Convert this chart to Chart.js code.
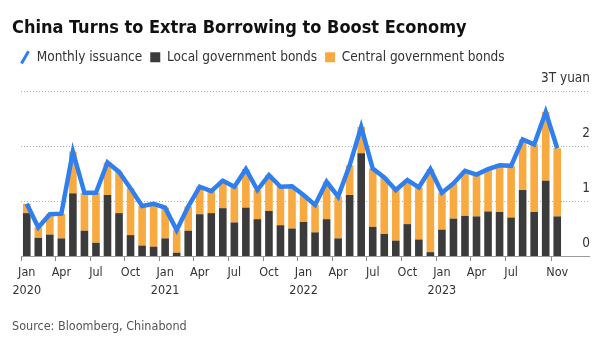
<!DOCTYPE html>
<html>
<head>
<meta charset="utf-8">
<script src="https://cdn.jsdelivr.net/npm/chart.js@4"></script>
<style>
  body { margin: 0; background: #fff; }
</style>
</head>
<body>
<canvas id="myChart" width="600" height="342"></canvas>
<script>
const months = [
    'Jan 2020', 'Feb 2020', 'Mar 2020', 'Apr 2020', 'May 2020', 'Jun 2020',
    'Jul 2020', 'Aug 2020', 'Sep 2020', 'Oct 2020', 'Nov 2020', 'Dec 2020',
    'Jan 2021', 'Feb 2021', 'Mar 2021', 'Apr 2021', 'May 2021', 'Jun 2021',
    'Jul 2021', 'Aug 2021', 'Sep 2021', 'Oct 2021', 'Nov 2021', 'Dec 2021',
    'Jan 2022', 'Feb 2022', 'Mar 2022', 'Apr 2022', 'May 2022', 'Jun 2022',
    'Jul 2022', 'Aug 2022', 'Sep 2022', 'Oct 2022', 'Nov 2022', 'Dec 2022',
    'Jan 2023', 'Feb 2023', 'Mar 2023', 'Apr 2023', 'May 2023', 'Jun 2023',
    'Jul 2023', 'Aug 2023', 'Sep 2023', 'Oct 2023', 'Nov 2023'
];

// months that get a label on the x axis
const tickMonths = [
    'Jan 2020', 'Apr 2020', 'Jul 2020', 'Oct 2020',
    'Jan 2021', 'Apr 2021', 'Jul 2021', 'Oct 2021',
    'Jan 2022', 'Apr 2022', 'Jul 2022', 'Oct 2022',
    'Jan 2023', 'Apr 2023', 'Jul 2023', 'Nov 2023'
];

// trillion yuan
const issuance = [
    0.95, 0.52, 0.76, 0.77, 1.90, 1.15, 1.15, 1.70, 1.53, 1.23, 0.91, 0.95,
    0.88, 0.47, 0.90, 1.26, 1.18, 1.37, 1.26, 1.58, 1.20, 1.47, 1.26, 1.27,
    1.11, 0.93, 1.35, 1.08, 1.65, 2.35, 1.59, 1.43, 1.20, 1.38, 1.25, 1.58,
    1.15, 1.32, 1.55, 1.48, 1.58, 1.65, 1.64, 2.12, 2.03, 2.62, 1.96
];

const localBonds = [
    0.78, 0.33, 0.39, 0.32, 1.14, 0.46, 0.24, 1.11, 0.78, 0.38, 0.19, 0.17,
    0.32, 0.06, 0.46, 0.76, 0.78, 0.87, 0.61, 0.88, 0.67, 0.82, 0.56, 0.50,
    0.62, 0.43, 0.67, 0.32, 1.11, 1.87, 0.53, 0.40, 0.28, 0.58, 0.30, 0.07,
    0.48, 0.68, 0.73, 0.72, 0.81, 0.80, 0.70, 1.20, 0.80, 1.37, 0.72
];

const centralBonds = [
    0.17, 0.19, 0.37, 0.45, 0.76, 0.69, 0.91, 0.59, 0.75, 0.85, 0.72, 0.78,
    0.56, 0.41, 0.44, 0.50, 0.40, 0.50, 0.65, 0.70, 0.53, 0.65, 0.70, 0.77,
    0.49, 0.50, 0.68, 0.76, 0.54, 0.48, 1.06, 1.03, 0.92, 0.80, 0.95, 1.51,
    0.67, 0.64, 0.82, 0.76, 0.77, 0.85, 0.94, 0.92, 1.23, 1.25, 1.24
];

const colors = {
    blue: '#2f7fee',
    dark: '#3b3b3b',
    orange: '#f8aa40',
    text: '#333333',
    grid: '#b0b0b0'
};

const fontFamily = '"DejaVu Sans Condensed", "DejaVu Sans", sans-serif';

// extra room under the legend for the "3T yuan" label
const legendSpacer = {
    id: 'legendSpacer',
    beforeInit(chart) {
        const origFit = chart.legend.fit;
        chart.legend.fit = function () {
            origFit.bind(chart.legend)();
            this.height += 17;
        };
    }
};

const data = {
    labels: months,
    datasets: [
        {
            type: 'line',
            label: 'Monthly issuance',
            data: issuance,
            borderColor: colors.blue,
            backgroundColor: colors.blue,
            borderWidth: 4.5,
            pointRadius: 0,
            tension: 0,
            stack: 'total',
            order: 0
        },
        {
            type: 'bar',
            label: 'Local government bonds',
            data: localBonds,
            backgroundColor: colors.dark,
            stack: 'bonds',
            barPercentage: 0.66,
            categoryPercentage: 1,
            order: 1
        },
        {
            type: 'bar',
            label: 'Central government bonds',
            data: centralBonds,
            backgroundColor: colors.orange,
            stack: 'bonds',
            barPercentage: 0.66,
            categoryPercentage: 1,
            order: 2
        }
    ]
};

const config = {
    type: 'bar',
    data: data,
    plugins: [legendSpacer],
    options: {
        responsive: false,
        animation: false,
        layout: {
            padding: { left: 12, right: 10, top: 0, bottom: 6 }
        },
        scales: {
            x: {
                stacked: true,
                border: { display: true, color: '#9a9a9a', width: 1 },
                grid: {
                    drawOnChartArea: false,
                    tickLength: 5,
                    color: function (ctx) {
                        const m = months[ctx.index];
                        return tickMonths.includes(m) ? '#8a8a8a' : 'rgba(0,0,0,0)';
                    }
                },
                ticks: {
                    autoSkip: false,
                    maxRotation: 0,
                    padding: 3,
                    color: colors.text,
                    font: { family: fontFamily, size: 12.5, lineHeight: '18px' },
                    callback: function (value, index) {
                        const m = months[index];
                        if (!tickMonths.includes(m)) {
                            return '';
                        }
                        const parts = m.split(' ');
                        return parts[0] === 'Jan' ? parts : parts[0];
                    }
                }
            },
            // empty left axis, only to push the plot away from the left edge
            leftGap: {
                type: 'linear',
                axis: 'y',
                position: 'left',
                grid: { display: false },
                border: { display: false },
                ticks: { display: false },
                afterFit: function (scale) {
                    scale.width = 9;
                }
            },
            y: {
                stacked: true,
                position: 'right',
                min: 0,
                max: 3,
                border: { display: false, dash: [1, 2] },
                grid: {
                    color: colors.grid,
                    lineWidth: 1,
                    tickLength: 27,
                    tickColor: function (ctx) {
                        return ctx.tick && ctx.tick.value === 0 ? '#9a9a9a' : colors.grid;
                    },
                    tickBorderDash: function (ctx) {
                        return ctx.tick && ctx.tick.value === 0 ? [] : [1, 2];
                    }
                },
                afterFit: function (scale) {
                    scale.width = 27;
                },
                ticks: {
                    stepSize: 1,
                    mirror: true,
                    crossAlign: 'near',
                    padding: 27,
                    labelOffset: -13,
                    color: colors.text,
                    font: { family: fontFamily, size: 13.5 },
                    callback: function (value) {
                        return value === 3 ? '3T yuan' : value;
                    }
                }
            }
        },
        plugins: {
            title: {
                display: true,
                text: 'China Turns to Extra Borrowing to Boost Economy',
                align: 'start',
                color: '#111',
                font: { family: fontFamily, size: 18, weight: 'bold' },
                padding: { top: 18, bottom: 3 }
            },
            subtitle: {
                display: true,
                position: 'bottom',
                text: 'Source: Bloomberg, Chinabond',
                align: 'start',
                color: '#555',
                font: { family: fontFamily, size: 12.5 },
                padding: { top: 16, bottom: 2 }
            },
            legend: {
                display: true,
                position: 'top',
                align: 'start',
                labels: {
                    usePointStyle: true,
                    boxWidth: 10,
                    boxHeight: 10,
                    padding: 8,
                    color: colors.text,
                    font: { family: fontFamily, size: 13.5 },
                    generateLabels: function (chart) {
                        const items = Chart.defaults.plugins.legend.labels.generateLabels(chart);
                        items.forEach(function (item) {
                            if (item.datasetIndex === 0) {
                                item.pointStyle = 'line';
                                item.rotation = -60;
                                item.lineWidth = 3;
                                item.strokeStyle = colors.blue;
                            } else {
                                item.pointStyle = 'rect';
                                item.rotation = 0;
                                item.lineWidth = 0;
                            }
                        });
                        return items;
                    }
                }
            },
            tooltip: { enabled: false }
        }
    }
};

new Chart(document.getElementById('myChart'), config);
</script>
</body>
</html>
